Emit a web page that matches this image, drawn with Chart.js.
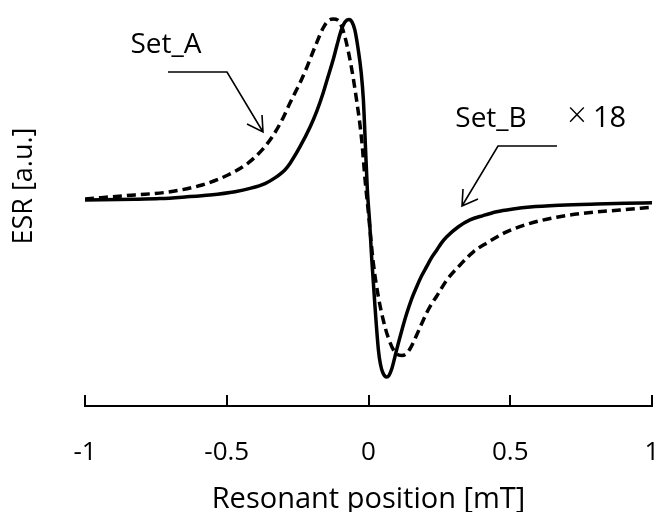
<!DOCTYPE html>
<html><head><meta charset="utf-8">
<script src="https://cdn.jsdelivr.net/npm/chart.js@4.4.1/dist/chart.umd.min.js"></script>
<style>html,body{margin:0;padding:0;background:#fff;}#wrap{width:659px;height:512px;position:relative;}</style>
</head><body><div id="wrap"><canvas id="c"></canvas></div>
<script>
// x tick values / labels
const xTickValues = [-1, -0.5, 0, 0.5, 1];
const xTickLabels = ['-1', '-0.5', '0', '0.5', '1'];

// Set_B (solid, ×18)
const setBX = [-1.000, -0.824, -0.735, -0.647, -0.559, -0.471, -0.418, -0.365, -0.330, -0.295, -0.277, -0.242, -0.206, -0.182, -0.160, -0.143, -0.125, -0.111, -0.097, -0.083, -0.069, -0.058, -0.048, -0.036, -0.026, -0.018, -0.011, -0.004, 0.004, 0.011, 0.023, 0.035, 0.042, 0.051, 0.064, 0.072, 0.083, 0.099, 0.116, 0.135, 0.152, 0.170, 0.187, 0.205, 0.222, 0.241, 0.257, 0.276, 0.316, 0.358, 0.404, 0.452, 0.510, 0.570, 0.675, 0.805, 0.905, 1.000];
const setBY = [0.000, 0.004, 0.008, 0.017, 0.028, 0.046, 0.064, 0.091, 0.122, 0.166, 0.202, 0.293, 0.403, 0.492, 0.591, 0.680, 0.773, 0.856, 0.934, 0.983, 0.997, 0.983, 0.939, 0.829, 0.707, 0.552, 0.304, 0.055, -0.122, -0.315, -0.591, -0.829, -0.906, -0.956, -0.978, -0.970, -0.928, -0.829, -0.729, -0.626, -0.547, -0.479, -0.420, -0.368, -0.320, -0.276, -0.238, -0.203, -0.149, -0.110, -0.086, -0.065, -0.050, -0.039, -0.029, -0.022, -0.018, -0.015];

// Set_A (dashed)
const setAX = [-1.000, -0.824, -0.707, -0.587, -0.496, -0.425, -0.376, -0.340, -0.305, -0.277, -0.242, -0.217, -0.189, -0.160, -0.143, -0.125, -0.108, -0.090, -0.065, -0.042, -0.024, -0.012, -0.002, 0.017, 0.035, 0.052, 0.070, 0.093, 0.117, 0.132, 0.146, 0.170, 0.187, 0.205, 0.222, 0.241, 0.276, 0.323, 0.370, 0.417, 0.487, 0.570, 0.664, 0.758, 0.887, 1.000];
const setAY = [0.006, 0.028, 0.044, 0.083, 0.138, 0.204, 0.276, 0.348, 0.442, 0.536, 0.646, 0.735, 0.845, 0.950, 0.989, 1.000, 0.994, 0.939, 0.773, 0.552, 0.331, 0.110, -0.044, -0.348, -0.536, -0.663, -0.762, -0.840, -0.859, -0.851, -0.823, -0.746, -0.685, -0.624, -0.575, -0.530, -0.442, -0.359, -0.286, -0.238, -0.176, -0.129, -0.095, -0.073, -0.055, -0.040];

const seriesNames = ['Set_A', 'Set_B'];
const scaleNote = '×18';
const xTitle = 'Resonant position [mT]';
const yTitle = 'ESR [a.u.]';

const toPts = (xs, ys) => xs.map((v, i) => ({x: v, y: ys[i]}));
const FONT = "'Open Sans', sans-serif";

const overlay = {
  id: 'overlay',
  afterDraw(chart) {
    const {ctx, scales: {x}, chartArea} = chart;
    ctx.save();
    ctx.strokeStyle = '#000';
    ctx.lineWidth = 2;
    x.ticks.forEach(t => {
      const px = Math.round(x.getPixelForValue(t.value));
      ctx.beginPath();
      ctx.moveTo(px, chartArea.bottom);
      ctx.lineTo(px, chartArea.bottom - 11);
      ctx.stroke();
    });
    ctx.fillStyle = '#000';
    ctx.font = "27px " + FONT;
    ctx.textAlign = 'center';
    ctx.textBaseline = 'alphabetic';
    ctx.save();
    ctx.translate(32, 186);
    ctx.rotate(-Math.PI / 2);
    ctx.fillText(yTitle, 0, 0);
    ctx.restore();
    ctx.font = "28px " + FONT;
    ctx.fillText(seriesNames[0], 166, 53);
    ctx.fillText(seriesNames[1], 491, 127);
    ctx.font = "300 34px " + FONT;
    ctx.fillText(scaleNote[0], 577, 127);
    ctx.textAlign = 'left';
    ctx.font = "29px " + FONT;
    ctx.fillText(scaleNote.slice(1), 593, 127);
    ctx.lineWidth = 1.6;
    ctx.beginPath();
    ctx.moveTo(168, 72); ctx.lineTo(227, 72); ctx.lineTo(263, 132);
    ctx.moveTo(247, 124); ctx.lineTo(263, 132); ctx.lineTo(262, 115);
    ctx.moveTo(557, 146); ctx.lineTo(498, 146); ctx.lineTo(462, 206);
    ctx.moveTo(463, 189); ctx.lineTo(462, 206); ctx.lineTo(478, 199);
    ctx.stroke();
    ctx.restore();
  }
};

new Chart(document.getElementById('c'), {
  type: 'line',
  data: {
    datasets: [
      { label: seriesNames[0], data: toPts(setAX, setAY), borderColor: '#000', borderWidth: 3.5, borderDash: [9, 5], pointRadius: 0, cubicInterpolationMode: 'monotone', fill: false },
      { label: seriesNames[1], data: toPts(setBX, setBY), borderColor: '#000', borderWidth: 3.5, pointRadius: 0, cubicInterpolationMode: 'monotone', fill: false }
    ]
  },
  options: {
    responsive: true,
    maintainAspectRatio: false,
    animation: false,
    layout: { padding: { left: 85, right: 7, top: 10, bottom: 0 } },
    plugins: { legend: { display: false }, tooltip: { enabled: false } },
    scales: {
      x: {
        type: 'linear', min: -1, max: 1,
        afterBuildTicks: s => { s.ticks = xTickValues.map(v => ({value: v})); },
        afterFit: s => { s.height = 106; s.paddingLeft = 0; s.paddingRight = 0; },
        ticks: { color: '#000', font: { family: FONT, size: 26 }, padding: 31, maxRotation: 0, autoSkip: false,
          callback: (v) => { const i = xTickValues.indexOf(v); return i >= 0 ? xTickLabels[i] : ''; } },
        grid: { display: true, drawOnChartArea: false, drawTicks: false },
        border: { display: true, color: '#000', width: 2 },
        title: { display: true, text: xTitle, color: '#000', font: { family: FONT, size: 29 }, padding: { top: 15, bottom: -5 } }
      },
      y: { type: 'linear', display: false, min: -1.138, max: 1.0497 }
    }
  },
  plugins: [overlay]
});
</script></body></html>
